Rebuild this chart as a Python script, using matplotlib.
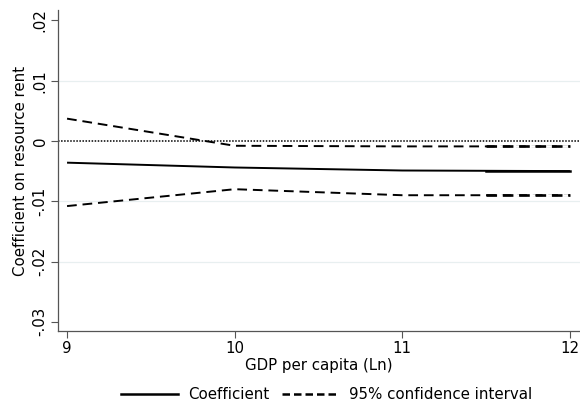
import numpy as np
import matplotlib.pyplot as plt
from matplotlib.lines import Line2D

# GDP per capita (Ln) grid and estimated marginal effect
gdp = [9, 10, 11, 12]
coef = [-0.0036, -0.0044, -0.0049, -0.0050]
ci_upper = [0.0037, -0.0008, -0.0009, -0.0009]
ci_lower = [-0.0108, -0.0080, -0.0090, -0.0090]

# stretch drawn twice in the source (looks heavier)
gdp_rep = [11.5, 12]
coef_rep = [-0.0050, -0.0050]
upper_rep = [-0.0009, -0.0009]
lower_rep = [-0.0090, -0.0090]

yticks = [0.02, 0.01, 0, -0.01, -0.02, -0.03]
yticklabels = ['.02', '.01', '0', '-.01', '-.02', '-.03']
xticks = [9, 10, 11, 12]

plt.rcParams['font.family'] = 'DejaVu Sans'
fs = 10.8
fig = plt.figure(figsize=(5.8, 4.05), dpi=100)
ax = fig.add_axes([0.1, 0.183, 0.9, 0.792])

for g in [0.01, -0.01, -0.02]:
    ax.axhline(g, color='#e8eff0', lw=0.9, zorder=0)
ax.axhline(0, color='black', lw=1.1, ls=(0, (1, 1)), zorder=1)

ax.plot(gdp, coef, color='black', lw=1.4, solid_capstyle='butt')
ax.plot(gdp, ci_upper, color='black', lw=1.4, dashes=(5, 3))
ax.plot(gdp, ci_lower, color='black', lw=1.4, dashes=(5, 3))
ax.plot(gdp_rep, coef_rep, color='black', lw=1.8)
ax.plot(gdp_rep, upper_rep, color='black', lw=1.9, dashes=(4, 2.2), gapcolor='white')
ax.plot(gdp_rep, lower_rep, color='black', lw=1.9, dashes=(4, 2.2), gapcolor='white')

ax.set_xlim(8.946, 12.06)
ax.set_ylim(-0.0315, 0.0217)
ax.set_xticks(xticks)
ax.set_yticks(yticks)
ax.set_yticklabels(yticklabels, rotation=90, va='center')
ax.tick_params(axis='both', direction='out', length=5, width=0.8, color='#555555',
               labelsize=fs, pad=2.5)
for s in ['top', 'right']:
    ax.spines[s].set_visible(False)
for s in ['left', 'bottom']:
    ax.spines[s].set_color('#555555')
    ax.spines[s].set_linewidth(0.9)

ax.set_xlabel('GDP per capita (Ln)', fontsize=fs, labelpad=1)
ax.set_ylabel('Coefficient on resource rent', fontsize=fs, labelpad=3)

handles = [Line2D([], [], color='black', lw=1.8),
           Line2D([], [], color='black', lw=1.8, dashes=(3, 1.6))]
fig.legend(handles, ['Coefficient', '95% confidence interval'], loc='center',
           bbox_to_anchor=(0.563, 0.025), ncol=2, frameon=False, fontsize=fs,
           handlelength=3.8, handletextpad=0.7, columnspacing=0.8)

fig.savefig('out.png', dpi=100)
